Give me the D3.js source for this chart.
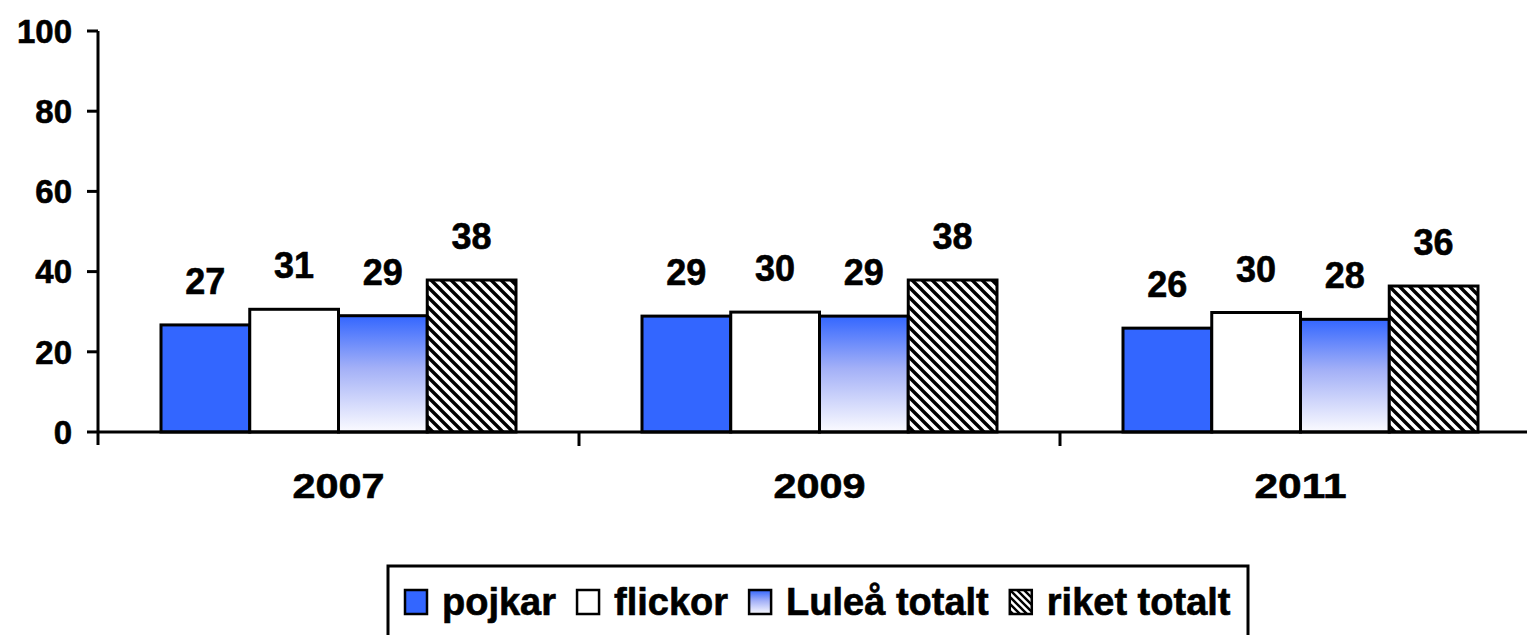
<!DOCTYPE html>
<html>
<head>
<meta charset="utf-8">
<script src="https://cdn.jsdelivr.net/npm/d3@7"></script>
<style>
  body { margin: 0; background: #fff; }
  text { font-family: "Liberation Sans", Arial, sans-serif; font-weight: bold; fill: #000; stroke: #000; stroke-width: 0.6px; }
</style>
</head>
<body>
<div id="chart"></div>
<script>
// data
var years = ["2007", "2009", "2011"];
var seriesNames = ["pojkar", "flickor", "Luleå totalt", "riket totalt"];
var pojkar = [26.7, 28.9, 25.9];
var flickor = [30.6, 29.9, 29.8];
var lulea = [29.0, 28.9, 28.1];
var riket = [37.9, 37.9, 36.4];
var yTicks = [0, 20, 40, 60, 80, 100];

var seriesValues = [pojkar, flickor, lulea, riket];
var fills = ["#3366ff", "#ffffff", "url(#luleaGrad)", "url(#hatch)"];

//svg dimensions
var svgWidth = 1527;
var svgHeight = 635;

var svg = d3.select("#chart")
    .append("svg")
    .attr("width", svgWidth)
    .attr("height", svgHeight);

var defs = svg.append("defs");

//gradient for Luleå totalt
var grad = defs.append("linearGradient")
    .attr("id", "luleaGrad")
    .attr("x1", 0).attr("y1", 0).attr("x2", 0).attr("y2", 1);
grad.append("stop").attr("offset", "0").attr("stop-color", "#3366ff");
grad.append("stop").attr("offset", "0.45").attr("stop-color", "#a3b0f7");
grad.append("stop").attr("offset", "1").attr("stop-color", "#fbfbff");

//diagonal hatch for riket totalt
var hatch = defs.append("pattern")
    .attr("id", "hatch")
    .attr("patternUnits", "userSpaceOnUse")
    .attr("width", 10).attr("height", 10);
hatch.append("rect").attr("width", 10).attr("height", 10).attr("fill", "#fff");
hatch.append("path")
    .attr("d", "M-5,5 L5,15 M0,0 L10,10 M5,-5 L15,5")
    .attr("stroke", "#000")
    .attr("stroke-width", 3.4);

//small hatch for legend
var hs = defs.append("pattern")
    .attr("id", "hatchSmall")
    .attr("patternUnits", "userSpaceOnUse")
    .attr("width", 7).attr("height", 7);
hs.append("rect").attr("width", 7).attr("height", 7).attr("fill", "#fff");
hs.append("path")
    .attr("d", "M-3.5,3.5 L3.5,10.5 M0,0 L7,7 M3.5,-3.5 L10.5,3.5")
    .attr("stroke", "#000")
    .attr("stroke-width", 2.4);

//scales
var x0 = d3.scaleBand().domain(years).range([98, 98 + 3 * 481]).paddingInner(0).paddingOuter(0);
var x1 = d3.scaleBand().domain(d3.range(seriesNames.length)).range([0, 355]);
var groupOffset = (x0.bandwidth() - 355) / 2;
var y = d3.scaleLinear().domain([0, 100]).range([432, 31]);

//bars
var groups = svg.selectAll(".grp")
    .data(years)
    .enter()
    .append("g")
    .attr("transform", d => `translate(${x0(d) + groupOffset},0)`);

groups.each(function(year, yi) {
    var g = d3.select(this);
    seriesValues.forEach(function(vals, si) {
        var v = vals[yi];
        g.append("rect")
            .attr("x", x1(si))
            .attr("y", y(v))
            .attr("width", x1.bandwidth())
            .attr("height", y(0) - y(v))
            .attr("fill", fills[si])
            .attr("stroke", "#000")
            .attr("stroke-width", 3);
        g.append("text")
            .attr("x", x1(si) + x1.bandwidth() / 2)
            .attr("y", y(v) - 31)
            .attr("text-anchor", "middle")
            .style("font-size", "36px")
            .text(d3.format(".0f")(v));
    });
});

//y axis
var yAxis = svg.append("g");
yAxis.append("line")
    .attr("x1", 98).attr("x2", 98)
    .attr("y1", y(100)).attr("y2", 445)
    .attr("stroke", "#000").attr("stroke-width", 3);
yAxis.selectAll(".ytick")
    .data(yTicks)
    .enter()
    .append("line")
    .attr("x1", 87).attr("x2", 98)
    .attr("y1", d => y(d)).attr("y2", d => y(d))
    .attr("stroke", "#000").attr("stroke-width", 3);
yAxis.selectAll(".ylab")
    .data(yTicks)
    .enter()
    .append("text")
    .attr("x", 72)
    .attr("y", d => y(d))
    .attr("dy", "0.36em")
    .attr("text-anchor", "end")
    .style("font-size", "33px")
    .text(d => d);

//x axis
var xAxis = svg.append("g");
xAxis.append("line")
    .attr("x1", 98).attr("x2", svgWidth)
    .attr("y1", y(0)).attr("y2", y(0))
    .attr("stroke", "#000").attr("stroke-width", 3);
xAxis.selectAll(".xtick")
    .data(years.slice(1))
    .enter()
    .append("line")
    .attr("x1", d => x0(d)).attr("x2", d => x0(d))
    .attr("y1", y(0)).attr("y2", 446)
    .attr("stroke", "#000").attr("stroke-width", 3);
xAxis.selectAll(".xlab")
    .data(years)
    .enter()
    .append("text")
    .attr("x", d => x0(d) + x0.bandwidth() / 2 - 46)
    .attr("y", 498)
    .attr("textLength", 92)
    .attr("lengthAdjust", "spacingAndGlyphs")
    .style("font-size", "35px")
    .text(d => d);

//legend
var legend = svg.append("g");
legend.append("rect")
    .attr("x", 388).attr("y", 566)
    .attr("width", 860).attr("height", 90)
    .attr("fill", "#fff")
    .attr("stroke", "#000").attr("stroke-width", 3);

var lx = 405;
seriesNames.forEach(function(name, i) {
    legend.append("rect")
        .attr("x", lx).attr("y", 590)
        .attr("width", 22).attr("height", 24)
        .attr("fill", i == 3 ? "url(#hatchSmall)" : fills[i])
        .attr("stroke", "#000").attr("stroke-width", 2.5);
    var t = legend.append("text")
        .attr("x", lx + 37)
        .attr("y", 615)
        .style("font-size", "38px")
        .text(name);
    lx = lx + 37 + t.node().getComputedTextLength() + 21;
});
</script>
</body>
</html>
